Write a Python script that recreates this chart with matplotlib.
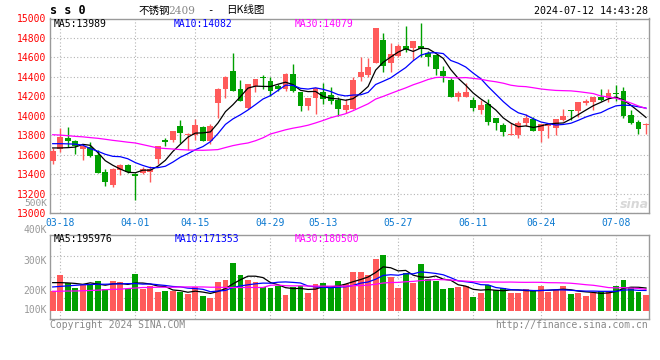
import numpy as np
import pandas as pd
import matplotlib
matplotlib.use('Agg')
import matplotlib.pyplot as plt

# daily candles 03-15 .. 07-12 (80 trading days)
open_ = [13538, 13657, 13777, 13739, 13661, 13681, 13599, 13419, 13293, 13443,
         13494, 13402, 13416, 13426, 13559, 13749, 13749, 13892, 13800, 13800,
         13886, 13743, 14131, 14277, 14465, 14277, 14083, 14311, 14403, 14362,
         14304, 14277, 14431, 14250, 14097, 14182, 14243, 14219, 14165, 14063,
         14073, 14396, 14424, 14540, 14781, 14540, 14618, 14720, 14693, 14720,
         14648, 14628, 14458, 14373, 14192, 14199, 14168, 14056, 14124, 13978,
         13903, 13800, 13800, 13926, 13971, 13845, 13896, 13879, 13954, 14056,
         14049, 14134, 14141, 14199, 14185, 14240, 14260, 14005, 13933, 13903]
close = [13637, 13783, 13743, 13688, 13688, 13589, 13416, 13320, 13453, 13494,
         13426, 13388, 13453, 13453, 13695, 13732, 13841, 13824, 13817, 13903,
         13743, 13892, 14277, 14403, 14260, 14158, 14328, 14379, 14390, 14253,
         14277, 14431, 14253, 14100, 14185, 14287, 14175, 14158, 14069, 14114,
         14369, 14454, 14505, 14907, 14516, 14635, 14713, 14676, 14771, 14686,
         14601, 14482, 14413, 14199, 14233, 14243, 14083, 14114, 13937, 13926,
         13835, 13817, 13930, 13978, 13845, 13913, 13920, 13964, 13995, 14049,
         14141, 14151, 14192, 14165, 14230, 14226, 13995, 13926, 13862, 13913]
high = [13674, 13875, 13886, 13749, 13695, 13729, 13647, 13453, 13460, 13511,
        13504, 13409, 13477, 13487, 13695, 13777, 13841, 13954, 13824, 13964,
        13892, 13913, 14284, 14413, 14648, 14369, 14328, 14379, 14424, 14396,
        14328, 14437, 14533, 14250, 14185, 14287, 14335, 14301, 14192, 14175,
        14396, 14608, 14594, 14907, 14856, 14744, 14737, 14928, 14771, 14958,
        14669, 14628, 14516, 14390, 14260, 14335, 14192, 14168, 14175, 13978,
        13930, 13926, 13943, 14022, 13988, 13920, 13926, 13964, 14073, 14063,
        14141, 14175, 14199, 14277, 14277, 14322, 14294, 14056, 13960, 13926]
low = [13504, 13630, 13681, 13606, 13552, 13579, 13409, 13283, 13272, 13392,
       13416, 13136, 13402, 13317, 13504, 13688, 13732, 13725, 13654, 13749,
       13743, 13715, 13978, 14182, 14260, 14151, 14073, 14243, 14277, 14209,
       14260, 14253, 14243, 14049, 14063, 14022, 14124, 14124, 13998, 14032,
       14073, 14362, 14396, 14540, 14448, 14448, 14601, 14652, 14574, 14601,
       14516, 14420, 14345, 14199, 14158, 14199, 14049, 14022, 13909, 13852,
       13790, 13800, 13773, 13892, 13845, 13732, 13777, 13800, 13943, 13954,
       13988, 14107, 14056, 14158, 14141, 14158, 13978, 13920, 13811, 13811]
# volume in thousands
volume_k = [174, 233, 206, 186, 199, 202, 211, 184, 211, 207,
            184, 237, 183, 193, 170, 174, 174, 170, 164, 190,
            157, 149, 207, 216, 278, 233, 215, 207, 190, 186,
            194, 160, 190, 193, 167, 200, 204, 186, 211, 202,
            244, 244, 233, 294, 307, 227, 186, 242, 206, 274,
            219, 212, 183, 186, 190, 194, 153, 168, 196, 178,
            185, 168, 168, 183, 174, 193, 170, 178, 193, 164,
            168, 156, 168, 174, 174, 193, 215, 189, 173, 160]

# moving-average values before enough history exists
ma5_head = [13671, 13671, 13674, 13680]
ma10_head = [13715, 13715, 13713, 13710, 13700, 13664, 13637, 13606, 13585]
ma30_head = [13807, 13803, 13797, 13790, 13785, 13777, 13770, 13760, 13749, 13740,
             13730, 13722, 13705, 13688, 13671, 13665, 13660, 13654, 13650, 13648,
             13647, 13650, 13654, 13675, 13695, 13710, 13722, 13745, 13775]
vma5_head = [206, 206, 205, 203]
vma10_head = [190, 192, 194, 196, 198, 199, 200, 200, 201]
vma30_head = [174, 174, 175, 175, 176, 177, 178, 180, 181, 182,
              184, 186, 188, 188, 189, 189, 189, 190, 190, 190,
              190, 189, 189, 188, 188, 188, 188, 188, 188]

date_idx = [1, 11, 19, 29, 36, 46, 56, 65, 75]
date_labels = ['03-18', '04-01', '04-15', '04-29', '05-13', '05-27', '06-11', '06-24', '07-08']
price_ticks = list(range(13000, 15001, 200))
vol_labels = ['400K', '300K', '200K', '100K']
vol_label_y = [230, 261, 291, 310]

ma_text = ['MA5:13989', 'MA10:14082', 'MA30:14079']
vma_text = ['MA5:195976', 'MA10:171353', 'MA30:180500']

RED = '#ff5a5a'
GREEN = '#00a000'
FRAME = '#9a9a9a'
GRID = '#b4b4b4'
MA_COLORS = ['#000000', '#0000ff', '#ff00ff']
MONO = 'DejaVu Sans Mono'

W, H = 660, 360


def rect(l, t, r, b):
    return [l / W, 1 - b / H, (r - l) / W, (b - t) / H]


def ptext(x, y, s, **kw):
    kw.setdefault('family', MONO)
    kw.setdefault('fontsize', 7)
    kw.setdefault('va', 'center')
    fig.text(x / W, 1 - y / H, s, **kw)


def with_head(values, n, head):
    out = pd.Series(values, dtype=float).rolling(n).mean().to_numpy()
    out[:n - 1] = head
    return out


fig = plt.figure(figsize=(6.6, 3.6), dpi=100)
fig.patch.set_facecolor('white')

ax = fig.add_axes(rect(50, 18.5, 649, 213.3))
vax = fig.add_axes(rect(50, 234.5, 649, 318.5))

o = np.array(open_, dtype=float)
c = np.array(close, dtype=float)
x = np.arange(len(c))
colors = np.where(c >= o, RED, GREEN)

# candles
ax.vlines(x, low, high, colors=colors, lw=1, zorder=3)
ax.bar(x, np.maximum(np.abs(c - o), 8), bottom=np.minimum(o, c), width=0.78,
       color=colors, lw=0, zorder=3)

for vals, n, head, col in [(close, 5, ma5_head, MA_COLORS[0]),
                           (close, 10, ma10_head, MA_COLORS[1]),
                           (close, 30, ma30_head, MA_COLORS[2])]:
    ax.plot(x, with_head(vals, n, head), color=col, lw=0.9, zorder=4)

ax.set_xlim(-0.36, 79.4)
ax.set_ylim(13000, 15000)
ax.set_yticks(price_ticks)
ax.set_yticklabels([str(v) for v in price_ticks], color='#ff0000', family=MONO, fontsize=7)
ax.set_xticks(date_idx)
ax.set_xticklabels(date_labels, color='#0a78d0', family=MONO, fontsize=7)
ax.tick_params(length=0, pad=3)
ax.tick_params(axis='x', pad=3.5)
ax.grid(True, color=GRID, ls=(0, (1, 2)), lw=0.8)
ax.set_axisbelow(True)

# volume
VBASE = 100
vax.bar(x, np.array(volume_k) - VBASE, bottom=VBASE, width=0.78, color=colors, lw=0, zorder=3)
for n, head, col in [(5, vma5_head, MA_COLORS[0]), (10, vma10_head, MA_COLORS[1]),
                     (30, vma30_head, MA_COLORS[2])]:
    vax.plot(x, with_head(volume_k, n, head), color=col, lw=0.9, zorder=4)
vlo, vhi = 73.3, 384
vax.set_xlim(-0.36, 79.4)
vax.set_ylim(vlo, vhi)
vax.set_yticks(np.linspace(vlo, vhi, 5)[1:-1])
vax.set_yticklabels([])
vax.set_xticks(date_idx)
vax.set_xticklabels([])
vax.tick_params(length=0)
vax.grid(True, color=GRID, ls=(0, (1, 2)), lw=0.8)
vax.set_axisbelow(True)

for a in (ax, vax):
    for sp in a.spines.values():
        sp.set_color(FRAME)
        sp.set_linewidth(1)

# header
ptext(50, 11, 's s 0', fontsize=8.5, weight='bold', ha='left')
ptext(139, 10.5, '不锈钢', family=['Noto Sans CJK SC', 'DejaVu Sans'], fontsize=7.6, ha='left')
ptext(168, 11, '2409', color='#888888', fontsize=7.6, ha='left', family='DejaVu Serif')
ptext(207, 10.5, '-', fontsize=7.6, ha='left')
ptext(226, 10.5, '日K线图', family=['Noto Sans CJK SC', 'DejaVu Sans'], fontsize=7.6, ha='left')
ptext(648, 11.5, '2024-07-12 14:43:28', ha='right', fontsize=7.2)

for xp, s, col in zip([54, 174, 295], ma_text, MA_COLORS):
    ptext(xp, 24, s, color=col, ha='left')
for xp, s, col in zip([54, 175, 295], vma_text, MA_COLORS):
    ptext(xp, 239.5, s, color=col, ha='left')

ptext(47, 203, '500K', color='#999999', ha='right', fontsize=6.8)
for s, yp in zip(vol_labels, vol_label_y):
    ptext(47, yp, s, color='#999999', ha='right')

ptext(50, 324.5, 'Copyright 2024 SINA.COM', color='#888888', ha='left')
ptext(648, 324.5, 'http://finance.sina.com.cn', color='#888888', ha='right')
ptext(634, 204, 'sina', color='#d8d8d8', ha='center', fontsize=9,
      family='DejaVu Sans', weight='bold', style='italic')

fig.savefig('out.png', dpi=100)
